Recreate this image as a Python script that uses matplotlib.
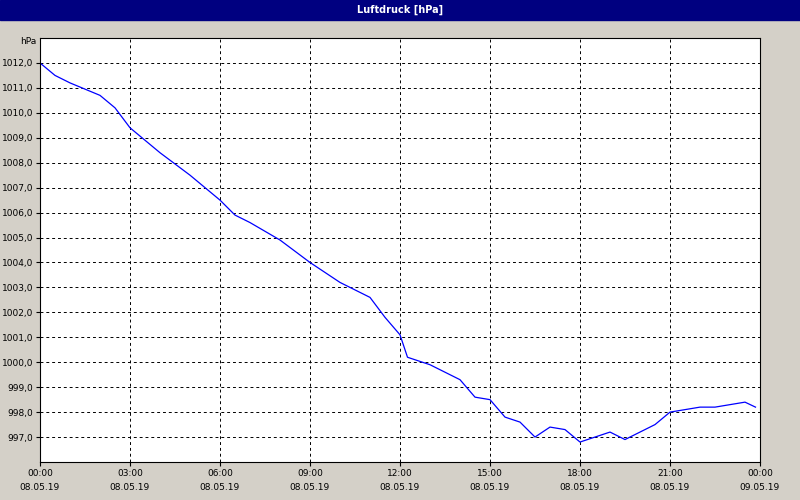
import matplotlib.pyplot as plt
from matplotlib.patches import Rectangle

hours = [0, 0.5, 1, 2, 2.5, 3, 4, 5, 6, 6.5, 7, 8, 9, 9.5, 10, 11, 11.5, 12, 12.25,
         12.5, 13, 13.5, 14, 14.5, 15, 15.5, 16, 16.5, 17, 17.5, 18, 18.5, 19, 19.5,
         20, 20.5, 21, 21.5, 22, 22.5, 23, 23.5, 23.85]
pressure = [1012.0, 1011.5, 1011.2, 1010.7, 1010.2, 1009.4, 1008.4, 1007.5, 1006.5, 1005.9,
            1005.6, 1004.9, 1004.0, 1003.6, 1003.2, 1002.6, 1001.8, 1001.1, 1000.2,
            1000.1, 999.9, 999.6, 999.3, 998.6, 998.5, 997.8, 997.6, 997.0, 997.4, 997.3,
            996.8, 997.0, 997.2, 996.9, 997.2, 997.5, 998.0, 998.1, 998.2, 998.2, 998.3,
            998.4, 998.2]
xticks = [0, 3, 6, 9, 12, 15, 18, 21, 24]
xlabels = ["00:00\n08.05.19", "03:00\n08.05.19", "06:00\n08.05.19", "09:00\n08.05.19",
           "12:00\n08.05.19", "15:00\n08.05.19", "18:00\n08.05.19", "21:00\n08.05.19",
           "00:00\n09.05.19"]
yticks = list(range(997, 1013))

fig = plt.figure(figsize=(8, 5), dpi=100, facecolor="#d4d0c8")
fig.patches.append(Rectangle((0, 0.96), 1, 0.04, transform=fig.transFigure,
                             color="#000080", zorder=0))
fig.text(0.5, 0.98, "Luftdruck [hPa]", color="white", fontsize=7, fontweight="bold",
         ha="center", va="center")

ax = fig.add_axes([0.05, 0.076, 0.9, 0.848])
ax.plot(hours, pressure, color="blue", lw=0.9)
ax.set_xlim(0, 24)
ax.set_ylim(996, 1013)
ax.set_xticks(xticks)
ax.set_xticklabels(xlabels, fontsize=6.5, linespacing=1.7)
ax.set_yticks(yticks)
ax.set_yticklabels([f"{v},0" for v in yticks], fontsize=6.5)
ax.grid(True, color="black", ls=(0, (3, 3)), lw=0.7)
ax.tick_params(length=3, pad=2)
for s in ax.spines.values():
    s.set_linewidth(0.8)
fig.text(0.025, 0.912, "hPa", fontsize=6.5)

fig.savefig("out.png", dpi=100, facecolor=fig.get_facecolor())
